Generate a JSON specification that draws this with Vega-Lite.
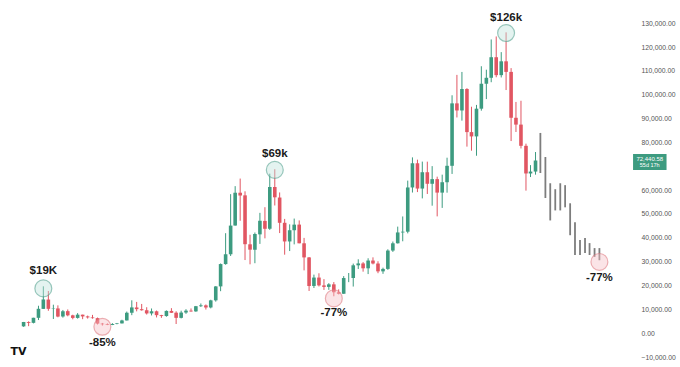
{
  "$schema": "https://vega.github.io/schema/vega-lite/v6.json",
  "width": 640,
  "height": 367,
  "autosize": "none",
  "padding": {"left": 0, "top": 0, "right": 40, "bottom": 0},
  "background": "white",
  "config": {"view": {"stroke": null}, "font": "Liberation Sans", "axis": {"labelOverlap": false}, "axisY": {"labelOverlap": false}},
  "datasets": {
    "candles": [
      {"date": "2017-08-01", "open": 2871, "high": 4736, "low": 2671, "close": 4703},
      {"date": "2017-09-01", "open": 4701, "high": 4975, "low": 2951, "close": 4338},
      {"date": "2017-10-01", "open": 4341, "high": 6470, "low": 4108, "close": 6468},
      {"date": "2017-11-01", "open": 6449, "high": 11517, "low": 5519, "close": 10233},
      {"date": "2017-12-01", "open": 10198, "high": 19666, "low": 10198, "close": 14156},
      {"date": "2018-01-01", "open": 14112, "high": 17712, "low": 9402, "close": 10221},
      {"date": "2018-02-01", "open": 10237, "high": 11958, "low": 5968, "close": 10397},
      {"date": "2018-03-01", "open": 10385, "high": 11680, "low": 6675, "close": 6973},
      {"date": "2018-04-01", "open": 7003, "high": 9745, "low": 6526, "close": 9240},
      {"date": "2018-05-01", "open": 9251, "high": 9964, "low": 7090, "close": 7494},
      {"date": "2018-06-01", "open": 7500, "high": 7754, "low": 5826, "close": 6404},
      {"date": "2018-07-01", "open": 6411, "high": 8424, "low": 6112, "close": 7780},
      {"date": "2018-08-01", "open": 7769, "high": 7770, "low": 5880, "close": 7037},
      {"date": "2018-09-01", "open": 7044, "high": 7388, "low": 6127, "close": 6625},
      {"date": "2018-10-01", "open": 6619, "high": 7681, "low": 6100, "close": 6318},
      {"date": "2018-11-01", "open": 6318, "high": 6553, "low": 3652, "close": 4017},
      {"date": "2018-12-01", "open": 4024, "high": 4309, "low": 3191, "close": 3743},
      {"date": "2019-01-01", "open": 3746, "high": 4109, "low": 3400, "close": 3457},
      {"date": "2019-02-01", "open": 3460, "high": 4210, "low": 3391, "close": 3854},
      {"date": "2019-03-01", "open": 3853, "high": 4296, "low": 3734, "close": 4105},
      {"date": "2019-04-01", "open": 4105, "high": 5642, "low": 4097, "close": 5350},
      {"date": "2019-05-01", "open": 5351, "high": 9074, "low": 5332, "close": 8574},
      {"date": "2019-06-01", "open": 8573, "high": 13796, "low": 7564, "close": 10817},
      {"date": "2019-07-01", "open": 10796, "high": 13129, "low": 9163, "close": 10085},
      {"date": "2019-08-01", "open": 10077, "high": 12273, "low": 9467, "close": 9630},
      {"date": "2019-09-01", "open": 9630, "high": 10898, "low": 7830, "close": 8293},
      {"date": "2019-10-01", "open": 8299, "high": 10370, "low": 7446, "close": 9199},
      {"date": "2019-11-01", "open": 9193, "high": 9505, "low": 6617, "close": 7569},
      {"date": "2019-12-01", "open": 7571, "high": 7695, "low": 6435, "close": 7193},
      {"date": "2020-01-01", "open": 7194, "high": 9553, "low": 6914, "close": 9350},
      {"date": "2020-02-01", "open": 9346, "high": 10500, "low": 8470, "close": 8544},
      {"date": "2020-03-01", "open": 8600, "high": 9188, "low": 3858, "close": 6438},
      {"date": "2020-04-01", "open": 6437, "high": 9440, "low": 6202, "close": 8658},
      {"date": "2020-05-01", "open": 8672, "high": 10067, "low": 8117, "close": 9461},
      {"date": "2020-06-01", "open": 9463, "high": 10380, "low": 8975, "close": 9138},
      {"date": "2020-07-01", "open": 9145, "high": 11435, "low": 8977, "close": 11323},
      {"date": "2020-08-01", "open": 11322, "high": 12468, "low": 10999, "close": 11681},
      {"date": "2020-09-01", "open": 11679, "high": 12067, "low": 9916, "close": 10785},
      {"date": "2020-10-01", "open": 10796, "high": 14029, "low": 10416, "close": 13781},
      {"date": "2020-11-01", "open": 13780, "high": 19749, "low": 13243, "close": 19625},
      {"date": "2020-12-01", "open": 19633, "high": 29244, "low": 17619, "close": 29001},
      {"date": "2021-01-01", "open": 28994, "high": 41947, "low": 28722, "close": 33114},
      {"date": "2021-02-01", "open": 33115, "high": 58330, "low": 32384, "close": 45137},
      {"date": "2021-03-01", "open": 45160, "high": 61683, "low": 45115, "close": 58918},
      {"date": "2021-04-01", "open": 58926, "high": 64863, "low": 47159, "close": 57750},
      {"date": "2021-05-01", "open": 57825, "high": 59519, "low": 30681, "close": 37332},
      {"date": "2021-06-01", "open": 37293, "high": 41295, "low": 28893, "close": 35040},
      {"date": "2021-07-01", "open": 35035, "high": 42235, "low": 29360, "close": 41626},
      {"date": "2021-08-01", "open": 41460, "high": 50482, "low": 37458, "close": 47166},
      {"date": "2021-09-01", "open": 47099, "high": 52853, "low": 39787, "close": 43790},
      {"date": "2021-10-01", "open": 43816, "high": 66930, "low": 43320, "close": 61318},
      {"date": "2021-11-01", "open": 61320, "high": 68789, "low": 53569, "close": 57005},
      {"date": "2021-12-01", "open": 56907, "high": 59041, "low": 42000, "close": 46306},
      {"date": "2022-01-01", "open": 46311, "high": 47944, "low": 32933, "close": 38483},
      {"date": "2022-02-01", "open": 38482, "high": 45661, "low": 34459, "close": 43193},
      {"date": "2022-03-01", "open": 43194, "high": 48086, "low": 37260, "close": 45538},
      {"date": "2022-04-01", "open": 45554, "high": 47313, "low": 37697, "close": 37714},
      {"date": "2022-05-01", "open": 37714, "high": 39974, "low": 26350, "close": 31792},
      {"date": "2022-06-01", "open": 31792, "high": 31957, "low": 17708, "close": 19784},
      {"date": "2022-07-01", "open": 19820, "high": 24572, "low": 18966, "close": 23336},
      {"date": "2022-08-01", "open": 23336, "high": 25135, "low": 19600, "close": 20050},
      {"date": "2022-09-01", "open": 20050, "high": 22673, "low": 18154, "close": 19423},
      {"date": "2022-10-01", "open": 19423, "high": 20988, "low": 18190, "close": 20495},
      {"date": "2022-11-01", "open": 20495, "high": 21446, "low": 15476, "close": 17168},
      {"date": "2022-12-01", "open": 17168, "high": 18387, "low": 16256, "close": 16548},
      {"date": "2023-01-01", "open": 16548, "high": 23950, "low": 16499, "close": 23139},
      {"date": "2023-02-01", "open": 23139, "high": 25250, "low": 21405, "close": 23147},
      {"date": "2023-03-01", "open": 23147, "high": 29190, "low": 19569, "close": 28478},
      {"date": "2023-04-01", "open": 28478, "high": 31000, "low": 26942, "close": 29268},
      {"date": "2023-05-01", "open": 29268, "high": 29820, "low": 25811, "close": 27219},
      {"date": "2023-06-01", "open": 27219, "high": 31431, "low": 24797, "close": 30477},
      {"date": "2023-07-01", "open": 30477, "high": 31814, "low": 28861, "close": 29232},
      {"date": "2023-08-01", "open": 29232, "high": 30176, "low": 25166, "close": 25940},
      {"date": "2023-09-01", "open": 25940, "high": 27488, "low": 24900, "close": 26967},
      {"date": "2023-10-01", "open": 26967, "high": 35198, "low": 26560, "close": 34667},
      {"date": "2023-11-01", "open": 34667, "high": 38450, "low": 34097, "close": 37712},
      {"date": "2023-12-01", "open": 37712, "high": 44700, "low": 37617, "close": 42265},
      {"date": "2024-01-01", "open": 42265, "high": 48969, "low": 38555, "close": 42580},
      {"date": "2024-02-01", "open": 42580, "high": 64000, "low": 41884, "close": 61130},
      {"date": "2024-03-01", "open": 61130, "high": 73750, "low": 59005, "close": 71280},
      {"date": "2024-04-01", "open": 71280, "high": 72797, "low": 59191, "close": 60672},
      {"date": "2024-05-01", "open": 60672, "high": 71979, "low": 56552, "close": 67520},
      {"date": "2024-06-01", "open": 67520, "high": 71958, "low": 58402, "close": 62678},
      {"date": "2024-07-01", "open": 62678, "high": 70079, "low": 53485, "close": 64628},
      {"date": "2024-08-01", "open": 64628, "high": 65660, "low": 49000, "close": 58973},
      {"date": "2024-09-01", "open": 58973, "high": 66500, "low": 52550, "close": 63327},
      {"date": "2024-10-01", "open": 63327, "high": 73620, "low": 58946, "close": 70215},
      {"date": "2024-11-01", "open": 70215, "high": 99800, "low": 66800, "close": 96407},
      {"date": "2024-12-01", "open": 96407, "high": 108353, "low": 90500, "close": 93429},
      {"date": "2025-01-01", "open": 93429, "high": 109588, "low": 89164, "close": 102429},
      {"date": "2025-02-01", "open": 102429, "high": 102783, "low": 78258, "close": 84350},
      {"date": "2025-03-01", "open": 84350, "high": 95000, "low": 76555, "close": 82548},
      {"date": "2025-04-01", "open": 82548, "high": 95760, "low": 74434, "close": 94172},
      {"date": "2025-05-01", "open": 94172, "high": 111980, "low": 93346, "close": 104638},
      {"date": "2025-06-01", "open": 104638, "high": 110530, "low": 98200, "close": 107135},
      {"date": "2025-07-01", "open": 107135, "high": 123218, "low": 105271, "close": 115764},
      {"date": "2025-08-01", "open": 115764, "high": 124474, "low": 107350, "close": 108246},
      {"date": "2025-09-01", "open": 108246, "high": 117900, "low": 107270, "close": 114049},
      {"date": "2025-10-01", "open": 114049, "high": 126200, "low": 102000, "close": 109608},
      {"date": "2025-11-01", "open": 109608, "high": 111190, "low": 80600, "close": 90360},
      {"date": "2025-12-01", "open": 90360, "high": 97000, "low": 84400, "close": 87500},
      {"date": "2026-01-01", "open": 87500, "high": 97500, "low": 77500, "close": 78600},
      {"date": "2026-02-01", "open": 78600, "high": 79500, "low": 59800, "close": 67000},
      {"date": "2026-03-01", "open": 67000, "high": 70500, "low": 65500, "close": 67800},
      {"date": "2026-04-01", "open": 67800, "high": 76000, "low": 66500, "close": 72440}
    ],
    "projection": [
      {"date": "2026-05-01", "low": 67200, "high": 84000},
      {"date": "2026-06-01", "low": 56700, "high": 73900},
      {"date": "2026-07-01", "low": 47300, "high": 62900},
      {"date": "2026-08-01", "low": 51500, "high": 60400},
      {"date": "2026-09-01", "low": 51500, "high": 62900},
      {"date": "2026-10-01", "low": 52800, "high": 62100},
      {"date": "2026-11-01", "low": 41100, "high": 54500},
      {"date": "2026-12-01", "low": 32800, "high": 46500},
      {"date": "2027-01-01", "low": 32800, "high": 39100},
      {"date": "2027-02-01", "low": 33600, "high": 39900},
      {"date": "2027-03-01", "low": 32800, "high": 37800},
      {"date": "2027-04-01", "low": 32000, "high": 35700},
      {"date": "2027-05-01", "low": 30600, "high": 35700}
    ],
    "circles": [
      {"date": "2017-12-01", "value": 18800, "kind": "peak"},
      {"date": "2018-12-01", "value": 2700, "kind": "trough"},
      {"date": "2021-11-01", "value": 68500, "kind": "peak"},
      {"date": "2022-11-01", "value": 14600, "kind": "trough"},
      {"date": "2025-10-01", "value": 125900, "kind": "peak"},
      {"date": "2027-05-01", "value": 29900, "kind": "trough"}
    ],
    "labels": [
      {"date": "2017-12-01", "value": 26100, "text": "$19K"},
      {"date": "2018-12-01", "value": -4100, "text": "-85%"},
      {"date": "2021-11-01", "value": 75200, "text": "$69k"},
      {"date": "2022-11-01", "value": 8500, "text": "-77%"},
      {"date": "2025-10-01", "value": 132200, "text": "$126k"},
      {"date": "2027-05-01", "value": 23200, "text": "-77%"}
    ],
    "price": [
      {"start": "2027-11-25", "end": "2028-06-19", "mid": "2028-03-07", "bottom": 68456, "top": 75168, "line1": 73280, "line2": 70344, "price": "72,440.58", "timer": "55d 17h"}
    ]
  },
  "encoding": {
    "x": {
      "field": "date",
      "type": "temporal",
      "scale": {"type": "utc", "domain": [{"year": 2017, "month": 4, "date": 8, "utc": true}, {"year": 2027, "month": 12, "date": 7, "utc": true}]},
      "axis": null
    },
    "y": {
      "field": "low",
      "type": "quantitative",
      "scale": {"domain": [-14178, 139765], "nice": false, "zero": false},
      "axis": {
        "orient": "right",
        "values": [-10000, 0, 10000, 20000, 30000, 40000, 50000, 60000, 80000, 90000, 100000, 110000, 120000, 130000],
        "format": ",.2f",
        "labelAlign": "left",
        "labelPadding": 1,
        "labelFontSize": 6.8,
        "labelColor": "#555555",
        "labelFont": "Liberation Sans",
        "labelOverlap": false,
        "labelBound": false,
        "labelFlush": false,
        "domain": false,
        "ticks": false,
        "grid": false,
        "title": null
      }
    }
  },
  "layer": [
    {
      "data": {"name": "candles"},
      "mark": {"type": "rule", "strokeWidth": 1},
      "encoding": {
        "y2": {"field": "high"},
        "color": {"condition": {"test": "datum.close >= datum.open", "value": "#3d9b80"}, "value": "#e15662"}
      }
    },
    {
      "data": {"name": "candles"},
      "mark": {"type": "bar", "width": 3.6},
      "encoding": {
        "y": {"field": "open", "type": "quantitative"},
        "y2": {"field": "close"},
        "color": {"condition": {"test": "datum.close >= datum.open", "value": "#3d9b80"}, "value": "#e15662"}
      }
    },
    {
      "data": {"name": "projection"},
      "mark": {"type": "rule", "strokeWidth": 1.8, "color": "#7d7d7d"},
      "encoding": {
        "y2": {"field": "high"}
      }
    },
    {
      "data": {"name": "circles"},
      "mark": {"type": "point", "shape": "circle", "filled": true, "size": 285, "strokeWidth": 1.2},
      "encoding": {
        "y": {"field": "value", "type": "quantitative"},
        "fill": {"field": "kind", "type": "nominal", "scale": {"domain": ["peak", "trough"], "range": ["#bfe3dc", "#f6c2c6"]}, "legend": null},
        "stroke": {"field": "kind", "type": "nominal", "scale": {"domain": ["peak", "trough"], "range": ["#5aa594", "#e07e86"]}, "legend": null},
        "fillOpacity": {"value": 0.6},
        "strokeOpacity": {"value": 0.9}
      }
    },
    {
      "data": {"name": "labels"},
      "mark": {"type": "text", "fontSize": 11.5, "fontWeight": "bold", "color": "#1a1a1a", "baseline": "middle", "align": "center"},
      "encoding": {
        "y": {"field": "value", "type": "quantitative"},
        "text": {"field": "text"}
      }
    },
    {
      "data": {"name": "price"},
      "mark": {"type": "rect", "color": "#3d9b80"},
      "encoding": {
        "x": {"field": "start", "type": "temporal"},
        "x2": {"field": "end"},
        "y": {"field": "bottom", "type": "quantitative"},
        "y2": {"field": "top"}
      }
    },
    {
      "data": {"name": "price"},
      "mark": {"type": "text", "fontSize": 6, "color": "white", "align": "center", "baseline": "middle"},
      "encoding": {
        "x": {"field": "mid", "type": "temporal"},
        "y": {"field": "line1", "type": "quantitative"},
        "text": {"field": "price"}
      }
    },
    {
      "data": {"name": "price"},
      "mark": {"type": "text", "fontSize": 5.5, "color": "white", "align": "center", "baseline": "middle"},
      "encoding": {
        "x": {"field": "mid", "type": "temporal"},
        "y": {"field": "line2", "type": "quantitative"},
        "text": {"field": "timer"}
      }
    },
    {
      "data": {"values": [{"date": "2017-07-01", "value": -7900, "text": "TV"}]},
      "mark": {"type": "text", "fontSize": 11, "fontWeight": 900, "color": "#111111", "align": "center", "baseline": "middle", "font": "DejaVu Sans"},
      "encoding": {
        "y": {"field": "value", "type": "quantitative"},
        "text": {"field": "text"}
      }
    }
  ]
}
